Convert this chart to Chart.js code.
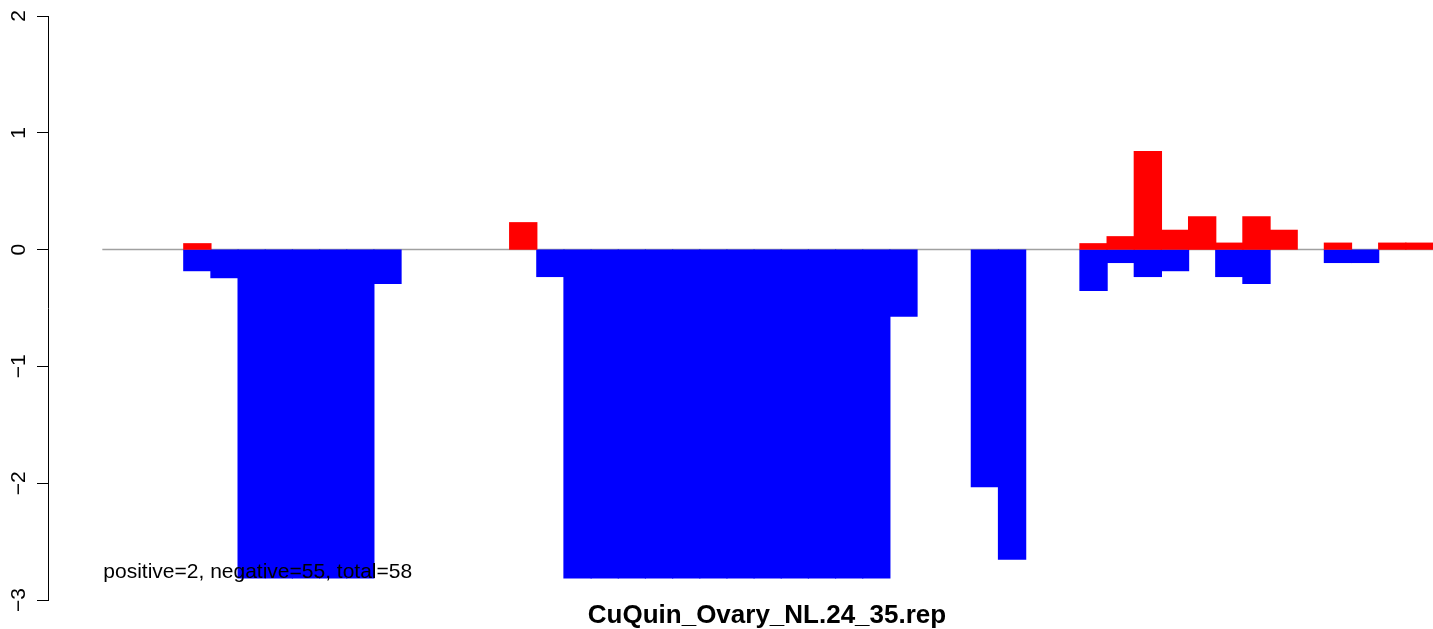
<!DOCTYPE html>
<html>
<head>
<meta charset="utf-8">
<script src="https://cdn.jsdelivr.net/npm/chart.js@4"></script>
<style>
  html, body { margin: 0; padding: 0; background: #fff; overflow: hidden; }
  #wrap { width: 1433px; height: 629px; position: relative; }
</style>
</head>
<body>
<div id="wrap"><canvas id="chart"></canvas></div>
<script>
// --- 데이터 ---
const slots = [
  1, 2, 3, 4, 5, 6, 7, 8, 9, 10, 11, 12, 13, 14, 15, 16, 17,
  18, 19, 20, 21, 22, 23, 24, 25, 26, 27, 28, 29, 30, 31, 32, 33, 34,
  35, 36, 37, 38, 39, 40, 41, 42, 43, 44, 45, 46, 47, 48, 49, 50, 51
];
const upValues = [
  null, null, null, null, null, 0.05, null, null, null, null, null, null, null, null, null, null, null,
  0.23, null, null, null, null, null, null, null, null, null, null, null, null, null, null, null, null,
  null, null, null, null, 0.05, 0.11, 0.84, 0.165, 0.28, 0.055, 0.28, 0.165, null, 0.055, null, 0.055, 0.055
];
const downValues = [
  null, null, null, null, null, -0.18, -0.24, -2.81, -2.81, -2.81, -2.81, -2.81, -0.29, null, null, null, null,
  null, -0.23, -2.81, -2.81, -2.81, -2.81, -2.81, -2.81, -2.81, -2.81, -2.81, -2.81, -2.81, -2.81, -0.57, null, null,
  -2.03, -2.65, null, null, -0.35, -0.11, -0.23, -0.18, null, -0.23, -0.29, null, null, -0.11, -0.11, null, null
];
const yTicks = [2, 1, 0, -1, -2, -3];
const chartTitle = 'CuQuin_Ovary_NL.24_35.rep';
const summaryText = 'positive=2, negative=55, total=58';
const firstSlot = 2; // 기준선이 시작되는 칸

// --- 직접 그리는 부분 (기준선, 세로 눈금 글자, 제목) ---
const extrasPlugin = {
  id: 'extras',
  beforeDatasetsDraw(chart) {
    const { ctx, chartArea, scales: { x, y } } = chart;
    const half = (x.getPixelForValue(1) - x.getPixelForValue(0)) / 2;
    const y0 = y.getPixelForValue(0);
    ctx.save();
    ctx.strokeStyle = '#a0a0a0';
    ctx.lineWidth = 1.5;
    ctx.beginPath();
    ctx.moveTo(x.getPixelForValue(firstSlot) - half, y0);
    ctx.lineTo(chartArea.right, y0);
    ctx.stroke();
    ctx.restore();
  },
  afterDatasetsDraw(chart) {
    const { ctx, scales: { x, y } } = chart;
    const half = (x.getPixelForValue(1) - x.getPixelForValue(0)) / 2;
    ctx.save();
    ctx.fillStyle = '#000';

    // 세로축 글자 (R 처럼 90도 회전, 진짜 마이너스 기호)
    ctx.font = '21px "Liberation Sans", Arial, sans-serif';
    ctx.textAlign = 'center';
    ctx.textBaseline = 'alphabetic';
    yTicks.forEach(v => {
      ctx.save();
      ctx.translate(25, y.getPixelForValue(v));
      ctx.rotate(-Math.PI / 2);
      ctx.fillText(String(v).replace('-', '\u2212'), 0, 0);
      ctx.restore();
    });

    // 요약 문구
    ctx.textAlign = 'left';
    ctx.fillText(summaryText, x.getPixelForValue(firstSlot) - half + 1, y.getPixelForValue(-2.81));

    // 제목
    ctx.font = 'bold 26px "Liberation Sans", Arial, sans-serif';
    ctx.textAlign = 'center';
    ctx.fillText(chartTitle, 767, 623);
    ctx.restore();
  }
};

const ctx = document.getElementById('chart').getContext('2d');
new Chart(ctx, {
  type: 'bar',
  data: {
    labels: slots,
    datasets: [
      {
        label: 'up',
        data: upValues,
        backgroundColor: '#ff0000',
        borderWidth: 0,
        inflateAmount: 0.6,
        barPercentage: 1,
        categoryPercentage: 1
      },
      {
        label: 'down',
        data: downValues,
        backgroundColor: '#0000ff',
        borderWidth: 0,
        inflateAmount: 0.6,
        barPercentage: 1,
        categoryPercentage: 1
      }
    ]
  },
  options: {
    responsive: true,
    maintainAspectRatio: false,
    animation: false,
    layout: { padding: { top: 16, bottom: 29, left: 0, right: 0 } },
    scales: {
      x: {
        stacked: true,
        display: false
      },
      y: {
        stacked: true,
        min: -3,
        max: 2,
        afterFit: (scale) => { scale.width = 48; },
        ticks: { display: false, stepSize: 1 },
        grid: {
          drawOnChartArea: false,
          drawTicks: true,
          tickLength: 11,
          color: '#000',
          lineWidth: 1
        },
        border: { display: true, color: '#000', width: 1 }
      }
    },
    plugins: {
      legend: { display: false },
      tooltip: { enabled: false }
    }
  },
  plugins: [extrasPlugin]
});
</script>
</body>
</html>
